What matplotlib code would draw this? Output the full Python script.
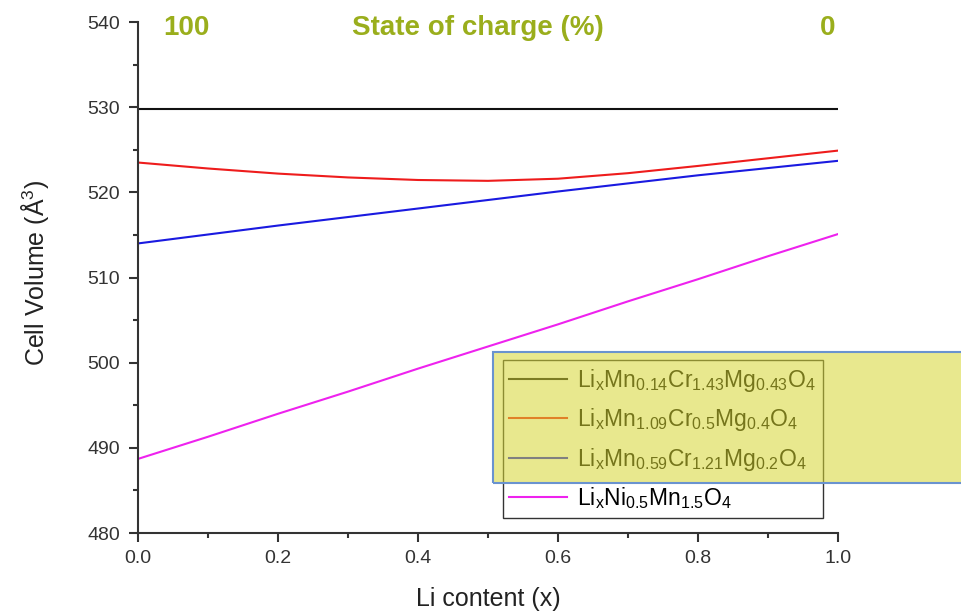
import matplotlib.pyplot as plt
from matplotlib.patches import Rectangle

# Cell volume vs Li content
li_x = [0.0, 0.1, 0.2, 0.3, 0.4, 0.5, 0.6, 0.7, 0.8, 0.9, 1.0]
vol_mn014 = [529.8, 529.8, 529.8, 529.8, 529.8, 529.8, 529.8, 529.8, 529.8, 529.8, 529.8]
vol_mn109 = [523.5, 522.8, 522.2, 521.75, 521.45, 521.35, 521.6, 522.25, 523.1, 524.0, 524.9]
vol_mn059 = [514.0, 515.05, 516.1, 517.1, 518.1, 519.1, 520.1, 521.05, 522.0, 522.85, 523.7]
vol_lnmo = [488.7, 491.3, 494.0, 496.6, 499.3, 501.9, 504.5, 507.2, 509.8, 512.5, 515.1]

labels = [
    r'Li$_\mathregular{x}$Mn$_\mathregular{0.14}$Cr$_\mathregular{1.43}$Mg$_\mathregular{0.43}$O$_\mathregular{4}$',
    r'Li$_\mathregular{x}$Mn$_\mathregular{1.09}$Cr$_\mathregular{0.5}$Mg$_\mathregular{0.4}$O$_\mathregular{4}$',
    r'Li$_\mathregular{x}$Mn$_\mathregular{0.59}$Cr$_\mathregular{1.21}$Mg$_\mathregular{0.2}$O$_\mathregular{4}$',
    r'Li$_\mathregular{x}$Ni$_\mathregular{0.5}$Mn$_\mathregular{1.5}$O$_\mathregular{4}$',
]
colors = ['#111111', '#ee1c1c', '#1a1ae0', '#ee22ee']
soc_labels = ['100', 'State of charge (%)', '0']

plt.rcParams['font.family'] = ['Liberation Sans', 'DejaVu Sans']
plt.rcParams['mathtext.fontset'] = 'custom'
plt.rcParams['mathtext.rm'] = 'Liberation Sans'

fig = plt.figure(figsize=(9.61, 6.13), dpi=100)
ax = fig.add_axes([0.1436, 0.1305, 0.7284, 0.8336])

for vals, c, lab in zip([vol_mn014, vol_mn109, vol_mn059, vol_lnmo], colors, labels):
    ax.plot(li_x, vals, color=c, lw=1.5, label=lab)

ax.set_xlim(0, 1.0)
ax.set_ylim(480, 540)
ax.set_xticks([0.0, 0.2, 0.4, 0.6, 0.8, 1.0])
ax.set_xticks([0.1, 0.3, 0.5, 0.7, 0.9], minor=True)
ax.set_yticks(range(480, 541, 10))
ax.set_yticks(range(485, 540, 10), minor=True)
ax.spines['top'].set_visible(False)
ax.spines['right'].set_visible(False)
for s in ('left', 'bottom'):
    ax.spines[s].set_linewidth(1.5)
    ax.spines[s].set_color('#333333')
ax.tick_params(which='major', length=6.5, width=1.5, colors='#333333', labelsize=14)
ax.tick_params(which='minor', length=3.5, width=1.5, colors='#333333')
ax.tick_params(axis='x', pad=6)
ax.tick_params(axis='y', pad=6.5)
ax.set_xlabel('Li content (x)', fontsize=18, color='#222222')
ax.set_ylabel(r'Cell Volume (Å$^\mathregular{3}$)', fontsize=18, color='#222222')
ax.xaxis.set_label_coords(0.5, -0.106)
ax.yaxis.set_label_coords(-0.125, 0.51)

leg = ax.legend(loc='upper left', bbox_to_anchor=(0.523, 0.4127), bbox_transform=fig.transFigure,
                fontsize=16.5, fancybox=False, edgecolor='#333333', framealpha=1,
                handlelength=2.5, handletextpad=0.45, labelspacing=0.54, borderpad=0.3,
                borderaxespad=0)
leg.get_frame().set_linewidth(1.0)

# yellow highlight box drawn over the legend
fig.patches.append(Rectangle((0.513, 0.212), 0.52, 0.214, transform=fig.transFigure,
                             facecolor='#d6d632', alpha=0.55, edgecolor='none', zorder=10))
fig.patches.append(Rectangle((0.513, 0.212), 0.52, 0.214, transform=fig.transFigure,
                             facecolor='none', edgecolor='#6a93cf', lw=1.5, zorder=11))

green = '#9aae1c'
fig.text(0.194, 0.955, soc_labels[0], ha='center', va='center', color=green,
         fontsize=20, fontweight='bold')
fig.text(0.497, 0.955, soc_labels[1], ha='center', va='center', color=green,
         fontsize=20, fontweight='bold')
fig.text(0.861, 0.955, soc_labels[2], ha='center', va='center', color=green,
         fontsize=20, fontweight='bold')

fig.savefig('out.png', dpi=100)
